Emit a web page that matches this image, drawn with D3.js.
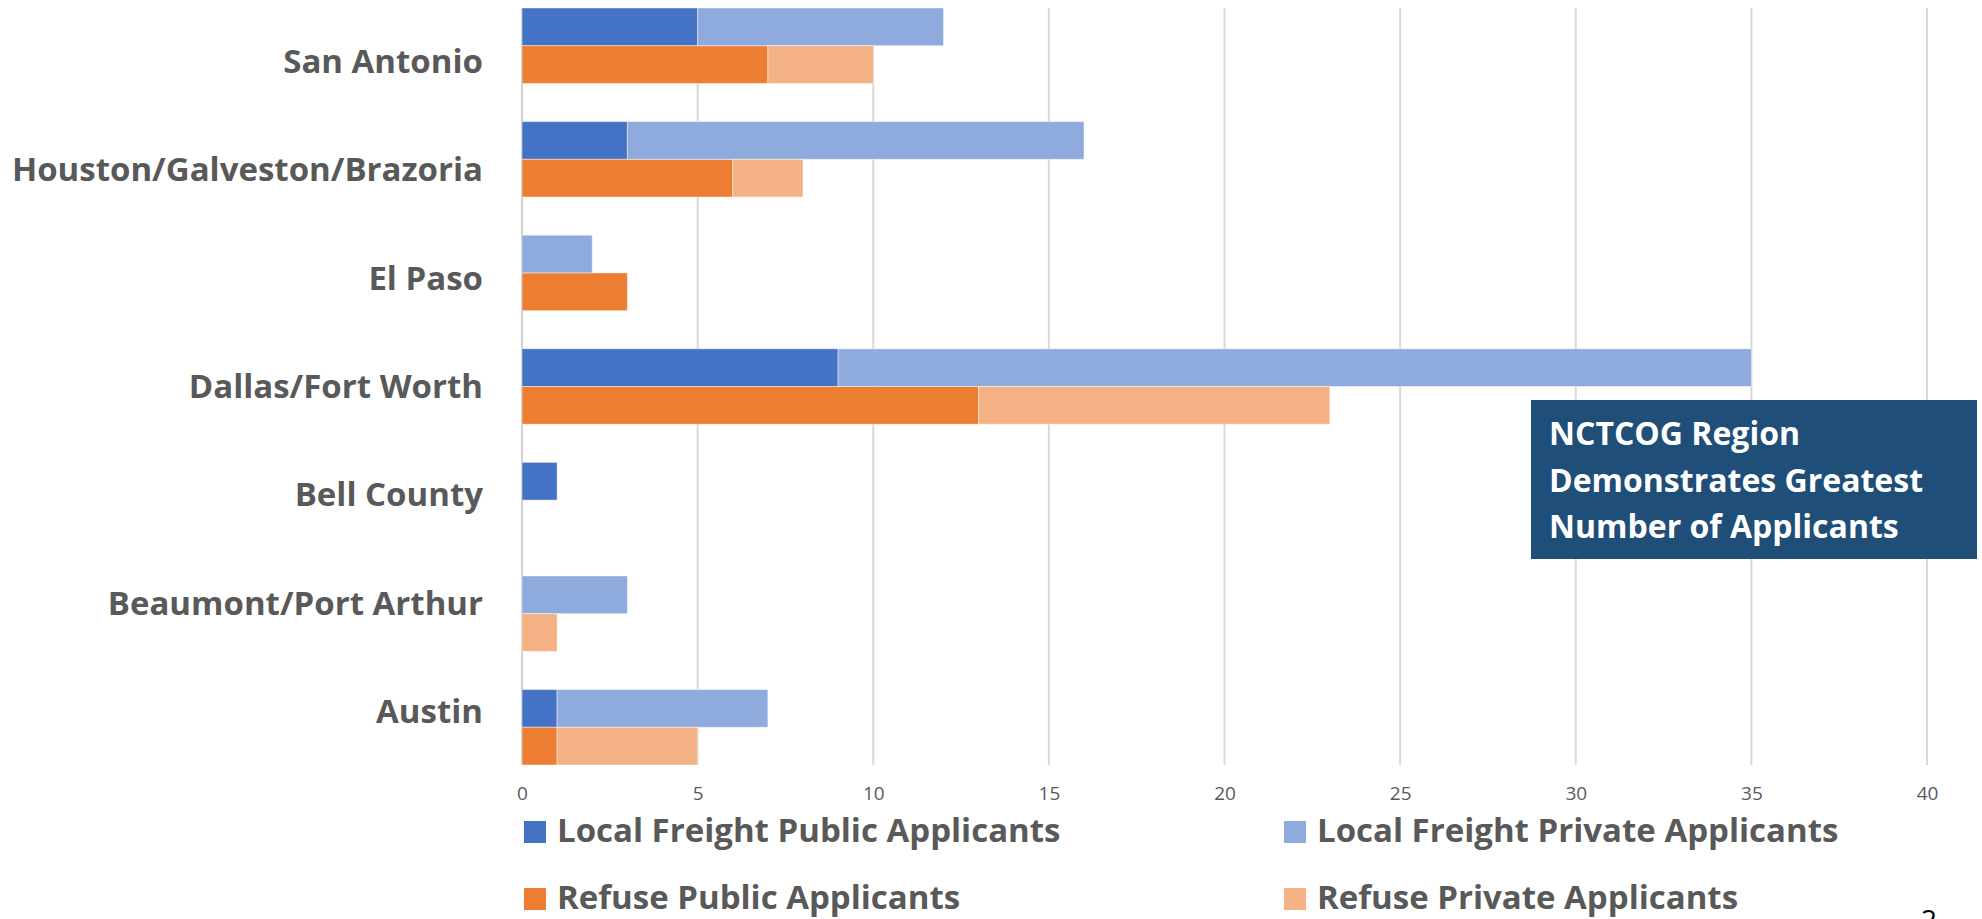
<!DOCTYPE html>
<html>
<head>
<meta charset="utf-8">
<script src="https://cdn.jsdelivr.net/npm/d3@7"></script>
<style>
    html, body { margin: 0; padding: 0; background: #fff; }
    #chart { width: 1982px; height: 919px; overflow: hidden; }
    text { font-family: "Open Sans", "Noto Sans", sans-serif; }
</style>
</head>
<body>
<div id="chart"></div>
<script>
//Data
const categories = ['San Antonio', 'Houston/Galveston/Brazoria', 'El Paso', 'Dallas/Fort Worth', 'Bell County', 'Beaumont/Port Arthur', 'Austin'];
const freightPublic = [5, 3, 0, 9, 1, 0, 1];
const freightPrivate = [7, 13, 2, 26, 0, 3, 6];
const refusePublic = [7, 6, 3, 13, 0, 0, 1];
const refusePrivate = [3, 2, 0, 10, 0, 1, 4];
const xTicks = [0, 5, 10, 15, 20, 25, 30, 35, 40];
const seriesNames = ['Local Freight Public Applicants', 'Local Freight Private Applicants', 'Refuse Public Applicants', 'Refuse Private Applicants'];
const noteLines = ['NCTCOG Region', 'Demonstrates Greatest', 'Number of Applicants'];

//Colors
const COLOR_FREIGHT_PUB = '#4472C4',
COLOR_FREIGHT_PRIV = '#8FAADC',
COLOR_REFUSE_PUB = '#ED7D31',
COLOR_REFUSE_PRIV = '#F4B183',
COLOR_TEXT = '#595959',
COLOR_GRID = '#D9D9D9',
COLOR_NOTE = '#1F4E79';

let width = 1982, height = 919;
let plot = {left: 522, right: 1927, top: 8, bottom: 765};

let svg = d3.select('#chart')
    .append('svg')
    .attr('width', width)
    .attr('height', height);

//Scales
let x = d3.scaleLinear()
    .domain([0, 40])
    .range([plot.left, plot.right]);

let y = d3.scaleBand()
    .domain(categories)
    .range([plot.top, plot.bottom])
    .paddingInner(0.336)
    .paddingOuter(0);

let groups = ['freight', 'refuse'];
let ySub = d3.scaleBand()
    .domain(groups)
    .range([0, y.bandwidth()]);

//Category labels sit on a slightly tighter spacing than the bars
let yLabel = d3.scalePoint()
    .domain(categories)
    .range([73, 723]);

//Grid
svg.append('g')
    .selectAll('line')
    .data(xTicks)
    .enter()
    .append('line')
    .attr('x1', function(d) { return x(d); })
    .attr('x2', function(d) { return x(d); })
    .attr('y1', plot.top)
    .attr('y2', plot.bottom)
    .attr('stroke', function(d) { return d == 0 ? '#D0D0D0' : COLOR_GRID; })
    .attr('stroke-width', 2);

//X axis
let xAxis = function(g) {
    g.call(d3.axisBottom(x).tickValues(xTicks).tickSize(0).tickPadding(0));
    g.call(function(g) { g.select('.domain').remove(); });
    g.selectAll('text')
        .attr('y', 0)
        .attr('dy', 0)
        .attr('fill', COLOR_TEXT)
        .style('font-size', '19px')
        .style('font-family', '"Open Sans", sans-serif');
};

svg.append('g')
    .attr('transform', 'translate(0,800)')
    .call(xAxis);

//Y labels
svg.append('g')
    .selectAll('text')
    .data(categories)
    .enter()
    .append('text')
    .attr('x', 483)
    .attr('y', function(d) { return yLabel(d); })
    .attr('text-anchor', 'end')
    .attr('fill', COLOR_TEXT)
    .style('font-size', '33px')
    .style('font-weight', '700')
    .text(function(d) { return d; });

//Rows for stacking
let rows = categories.map(function(c, i) {
    return [
        {cat: c, group: 'freight', pub: freightPublic[i], priv: freightPrivate[i]},
        {cat: c, group: 'refuse', pub: refusePublic[i], priv: refusePrivate[i]}
    ];
}).flat();

let stack = d3.stack().keys(['pub', 'priv']);
let stacked = stack(rows);

let color = function(group, key) {
    if (group == 'freight') { return key == 'pub' ? COLOR_FREIGHT_PUB : COLOR_FREIGHT_PRIV; }
    return key == 'pub' ? COLOR_REFUSE_PUB : COLOR_REFUSE_PRIV;
};

svg.append('g')
    .selectAll('g')
    .data(stacked)
    .enter()
    .append('g')
    .selectAll('rect')
    .data(function(s) { return s.map(function(d) { return {key: s.key, d0: d[0], d1: d[1], row: d.data}; }); })
    .enter()
    .filter(function(d) { return d.d1 > d.d0; })
    .append('rect')
    .attr('x', function(d) { return x(d.d0); })
    .attr('y', function(d) { return y(d.row.cat) + ySub(d.row.group); })
    .attr('width', function(d) { return x(d.d1) - x(d.d0); })
    .attr('height', ySub.bandwidth())
    .attr('fill', function(d) { return color(d.row.group, d.key); })
    .attr('stroke', '#fff')
    .attr('stroke-opacity', 0.45)
    .attr('stroke-width', 1);

//Legend
let legendPos = [
    {x: 524, y: 821},
    {x: 1284, y: 821},
    {x: 524, y: 888},
    {x: 1284, y: 888}
];
let legendColors = [COLOR_FREIGHT_PUB, COLOR_FREIGHT_PRIV, COLOR_REFUSE_PUB, COLOR_REFUSE_PRIV];

let legend = svg.append('g')
    .selectAll('g')
    .data(seriesNames)
    .enter()
    .append('g')
    .attr('transform', function(d, i) { return 'translate(' + legendPos[i].x + ',' + legendPos[i].y + ')'; });

legend.append('rect')
    .attr('width', 22)
    .attr('height', 22)
    .attr('fill', function(d, i) { return legendColors[i]; });

legend.append('text')
    .attr('x', 33)
    .attr('y', 21)
    .attr('fill', COLOR_TEXT)
    .style('font-size', '33px')
    .style('font-weight', '700')
    .text(function(d) { return d; });

//Note box
let note = svg.append('g');
note.append('rect')
    .attr('x', 1531)
    .attr('y', 400)
    .attr('width', 446)
    .attr('height', 159)
    .attr('fill', COLOR_NOTE);

note.selectAll('text')
    .data(noteLines)
    .enter()
    .append('text')
    .attr('x', 1549)
    .attr('y', function(d, i) { return 445 + i * 46.5; })
    .attr('fill', '#fff')
    .style('font-size', '32px')
    .style('font-weight', '700')
    .text(function(d) { return d; });

//Slide number (cut off at bottom)
svg.append('text')
    .attr('x', 1929)
    .attr('y', 930)
    .attr('text-anchor', 'middle')
    .attr('fill', '#000')
    .style('font-size', '28px')
    .text('2');
</script>
</body>
</html>
